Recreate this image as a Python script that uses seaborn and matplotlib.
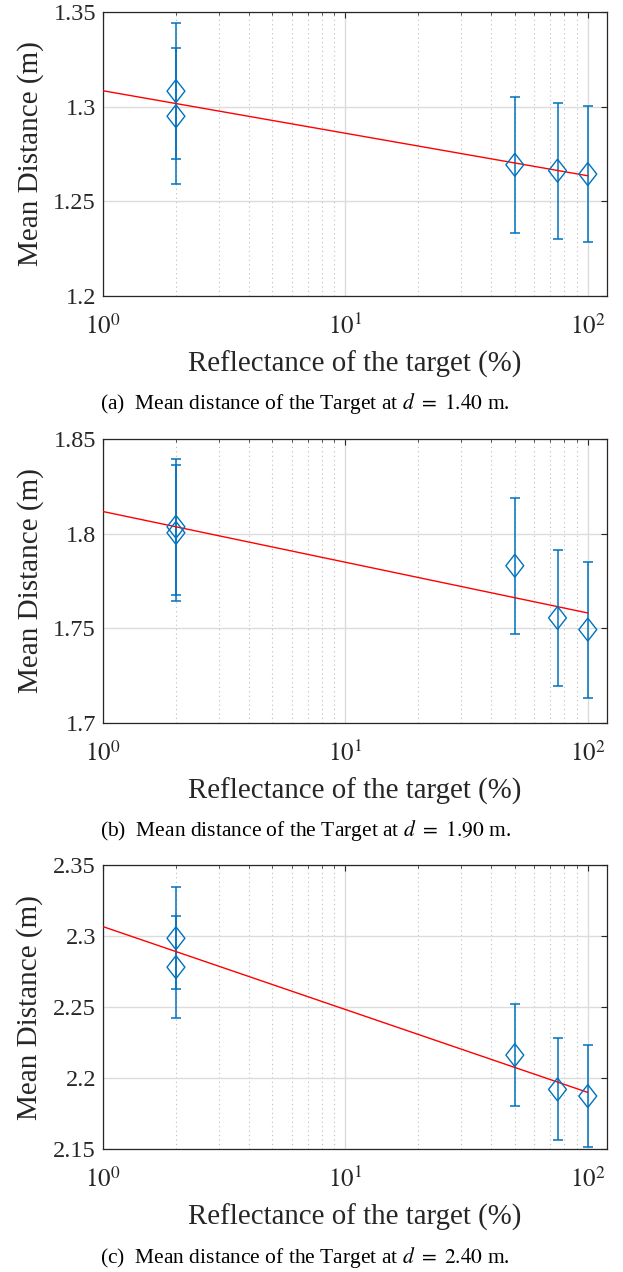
import numpy as np
import pandas as pd
import matplotlib
matplotlib.use("Agg")
import matplotlib.pyplot as plt
import seaborn as sns

# ===== Data =====
reflectance = [2, 2, 50, 75, 100]

# (a) d = 1.40 m
mean_a = [1.3083, 1.2950, 1.2693, 1.2662, 1.2644]
err_a = [0.036, 0.036, 0.036, 0.036, 0.036]
fit_a = [1.3085, 1.2635]

# (b) d = 1.90 m
mean_b = [1.8037, 1.8005, 1.7831, 1.7555, 1.7493]
err_b = [0.036, 0.036, 0.036, 0.036, 0.036]
fit_b = [1.8118, 1.7581]

# (c) d = 2.40 m
mean_c = [2.2986, 2.2782, 2.2162, 2.1920, 2.1873]
err_c = [0.036, 0.036, 0.036, 0.036, 0.036]
fit_c = [2.3068, 2.1899]

fit_x = [1, 100]

ylims = [(1.2, 1.35), (1.7, 1.85), (2.15, 2.35)]
yticks = [[1.2, 1.25, 1.3, 1.35], [1.7, 1.75, 1.8, 1.85], [2.15, 2.2, 2.25, 2.3, 2.35]]
ytick_labels = [["1.2", "1.25", "1.3", "1.35"], ["1.7", "1.75", "1.8", "1.85"],
                ["2.15", "2.2", "2.25", "2.3", "2.35"]]
captions = [r"(a)  Mean distance of the Target at $d\ =\ 1.40$ m.",
            r"(b)  Mean distance of the Target at $d\ =\ 1.90$ m.",
            r"(c)  Mean distance of the Target at $d\ =\ 2.40$ m."]

sns.set_style("white")
plt.rcParams["font.family"] = ["Liberation Serif", "DejaVu Serif"]
plt.rcParams["mathtext.fontset"] = "stix"

BLUE = "#0072BD"
# MATLAB-style diamond, slightly taller than wide
diamond = [(0, 1), (0.78, 0), (0, -1), (-0.78, 0), (0, 1)]

fig = plt.figure(figsize=(6.23, 12.72), dpi=100)

# axes boxes in figure fractions (left, bottom, width, height)
boxes = [(0.1653, 0.7675, 0.809, 0.2228),
         (0.1653, 0.4318, 0.809, 0.2228),
         (0.1653, 0.0967, 0.809, 0.2230)]
caption_y = [0.6824, 0.3467, 0.0117]

panels = [(mean_a, err_a, fit_a), (mean_b, err_b, fit_b), (mean_c, err_c, fit_c)]

for i, (means, errs, fit) in enumerate(panels):
    ax = fig.add_axes(boxes[i])
    df = pd.DataFrame({"reflectance": reflectance, "mean": means, "err": errs})
    fit_df = pd.DataFrame({"reflectance": fit_x, "fit": fit})

    ax.set_xscale("log")

    # error bars
    ax.errorbar(df["reflectance"], df["mean"], yerr=df["err"], fmt="none",
                ecolor=BLUE, elinewidth=1.1, capsize=3.6, capthick=1.1, zorder=3)

    # linear fit in log-x
    sns.lineplot(data=fit_df, x="reflectance", y="fit", color="red", lw=1.0,
                 ax=ax, zorder=4)

    # diamond markers
    sns.scatterplot(data=df, x="reflectance", y="mean", marker=diamond, s=16.5 ** 2,
                    facecolor="none", edgecolor=BLUE, linewidth=1.0, ax=ax, zorder=5)

    ax.set_xlim(1, 120)
    ax.set_ylim(*ylims[i])
    ax.set_xticks([1, 10, 100])
    ax.set_xticklabels([r"$10^0$", r"$10^1$", r"$10^2$"])
    ax.set_yticks(yticks[i])
    ax.set_yticklabels(ytick_labels[i])

    # grids: solid major, dotted minor on x
    ax.grid(True, which="major", color="#dcdcdc", lw=1.0, ls="-")
    ax.grid(True, which="minor", axis="x", color="#bdbdbd", lw=0.8, ls=(0, (1, 3)))
    ax.set_axisbelow(True)

    ax.tick_params(axis="both", which="both", direction="in", top=True, right=True,
                   colors="#262626", labelcolor="#262626")
    ax.tick_params(axis="both", which="major", length=4, width=0.8, labelsize=17.5)
    ax.tick_params(axis="x", which="major", pad=13, labelsize=18)
    ax.tick_params(axis="x", which="minor", length=2.5, width=0.6)
    ax.tick_params(axis="y", which="major", pad=5)
    for sp in ax.spines.values():
        sp.set_color("#262626")
        sp.set_linewidth(0.9)

    ax.set_xlabel("Reflectance of the target (%)", fontsize=20.8, color="#262626", labelpad=8)
    ax.set_ylabel("Mean Distance (m)", fontsize=21, color="#262626", labelpad=7)
    if ax.get_legend() is not None:
        ax.get_legend().remove()

    fig.text(0.49, caption_y[i], captions[i], ha="center", va="center", fontsize=15.5,
             color="black")

fig.savefig("out.png", dpi=100)
